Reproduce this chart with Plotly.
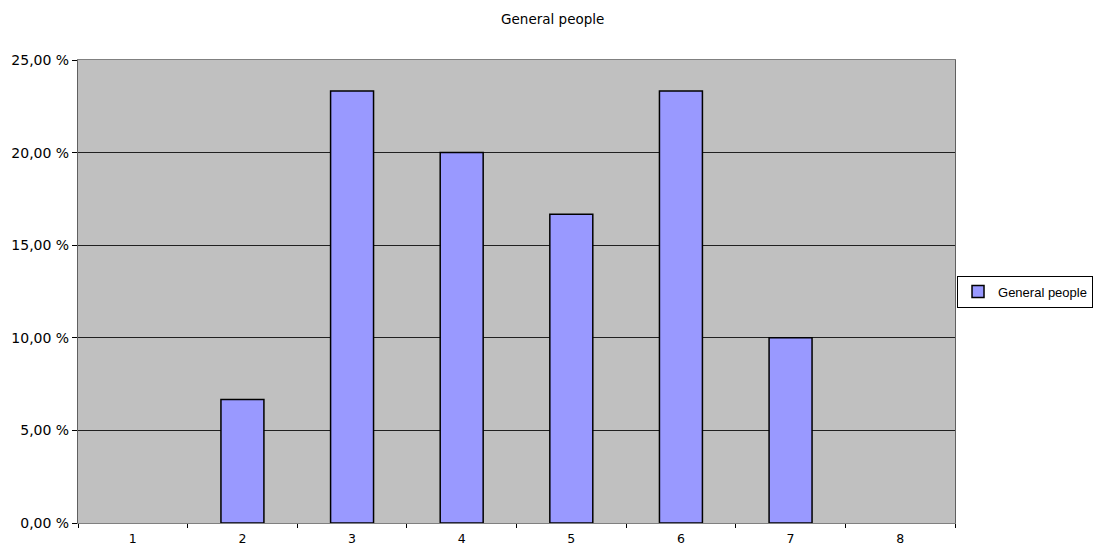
import plotly.graph_objects as go

categories = ["1", "2", "3", "4", "5", "6", "7", "8"]
values = [0, 6.67, 23.33, 20.0, 16.67, 23.33, 10.0, 0]
series_name = "General people"
chart_title = "General people"

# Empty categories draw no bar at all (as in the original chart)
plot_values = [v if v > 0 else None for v in values]

FONT = "DejaVu Sans, Verdana, sans-serif"

fig = go.Figure()
fig.add_trace(go.Bar(
    x=categories, y=plot_values, name=series_name,
    marker=dict(color="#9999ff", line=dict(color="#000000", width=1.5)),
    showlegend=True,
))

fig.update_layout(
    width=1096, height=541,
    margin=dict(l=70, r=149, t=52, b=26, autoexpand=False),
    paper_bgcolor="white",
    plot_bgcolor="#c0c0c0",
    font=dict(family=FONT, size=13, color="#000000"),
    title=dict(text=chart_title, x=0.497, xanchor="center", xref="container",
               y=0.98, yanchor="middle", font=dict(size=13.5, color="#000000")),
    bargap=0.608,
    separators=", ",
    legend=dict(x=1.0023, xanchor="left", y=0.5, yanchor="middle",
                bordercolor="#000000", borderwidth=1, bgcolor="white",
                font=dict(size=13, family="Liberation Sans, Arial, sans-serif"),
                itemwidth=30, tracegroupgap=0),
    xaxis=dict(type="category", tickson="boundaries", ticks="outside", ticklen=4,
               tickcolor="#000000", showline=True, linecolor="#808080", linewidth=1,
               mirror=True, showgrid=False, tickfont=dict(size=12.5), automargin=False,
               ticklabelstandoff=4),
    yaxis=dict(range=[0, 25], dtick=5, tickformat=".2f", ticksuffix=" %",
               ticks="outside", ticklen=5, tickcolor="#000000",
               showline=True, linecolor="#606060", linewidth=1, mirror=True,
               gridcolor="#202020", gridwidth=1, zeroline=False,
               tickfont=dict(size=14), automargin=False),
)

fig.write_html("out.html")
